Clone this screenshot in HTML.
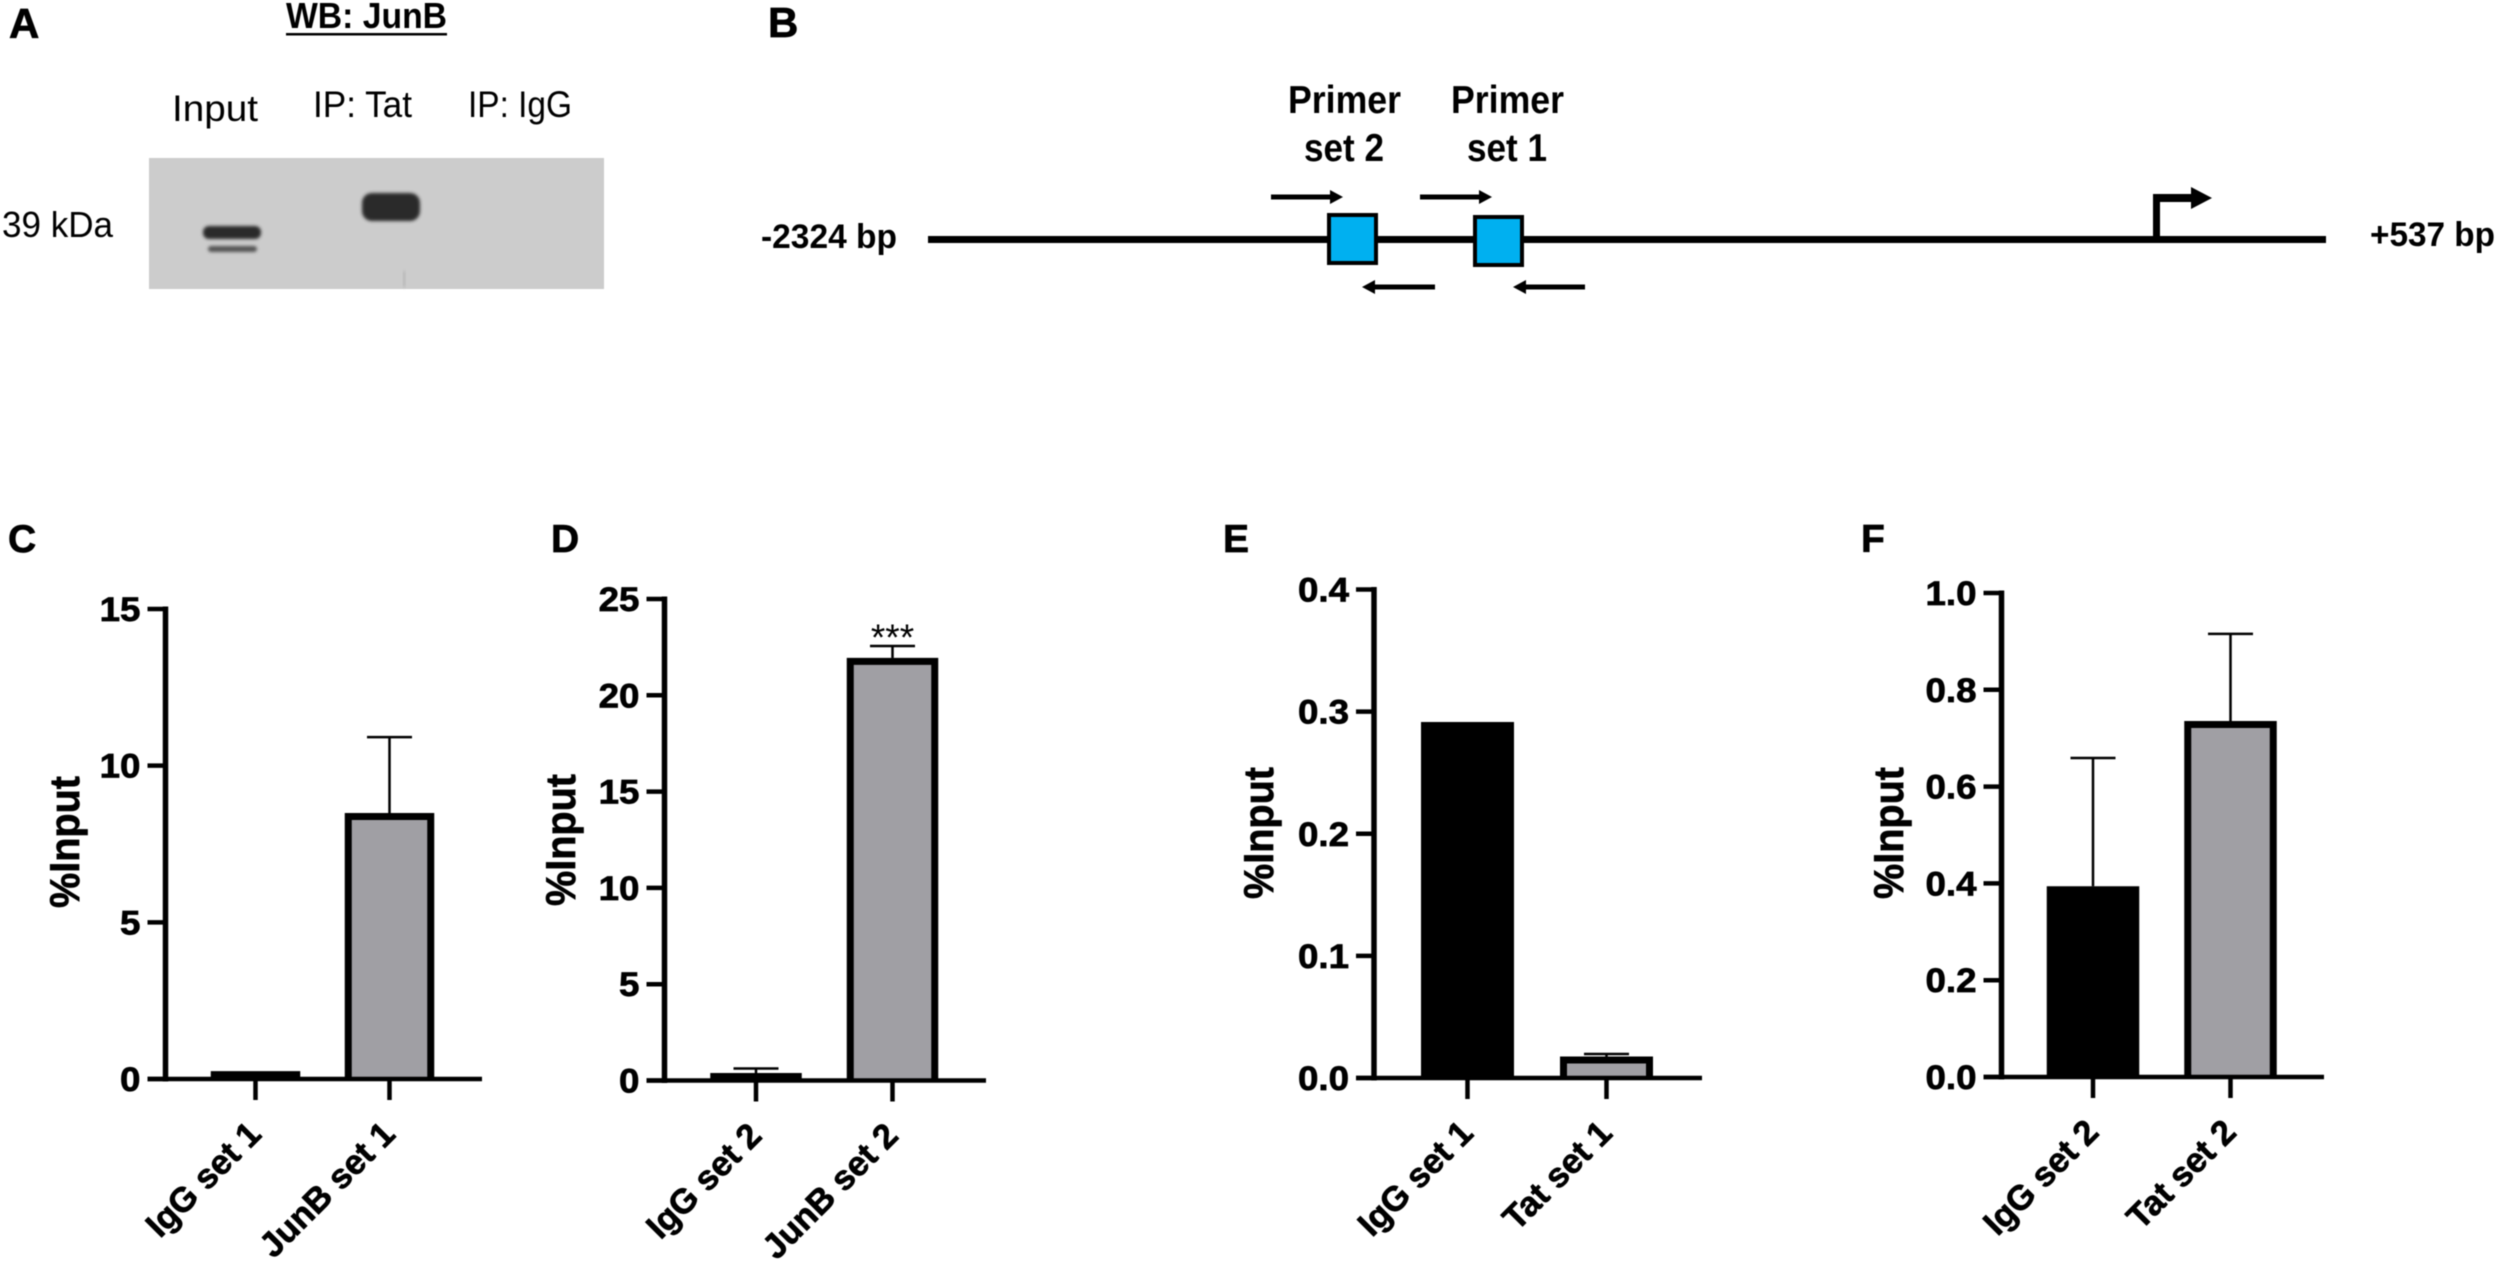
<!DOCTYPE html>
<html lang="en">
<head>
<meta charset="utf-8">
<title>JunB and Tat ChIP figure</title>
<style>
html,body{margin:0;padding:0;background:#fff;width:2500px;height:1265px;overflow:hidden}
svg{display:block;position:absolute;left:0;top:0;filter:blur(0.6px)}
text{font-family:"Liberation Sans",sans-serif;fill:#000}
.b{font-weight:700}
.h{font-weight:700;stroke:#000;stroke-width:0.7px}
</style>
</head>
<body>
<svg id="figure" xmlns="http://www.w3.org/2000/svg" width="2500" height="1265" viewBox="0 0 2500 1265">
<defs>
<filter id="soft" x="-20%" y="-50%" width="140%" height="200%"><feGaussianBlur stdDeviation="2.2"/></filter>
<filter id="softer" x="-20%" y="-80%" width="140%" height="260%"><feGaussianBlur stdDeviation="1.5"/></filter>
</defs>
<rect width="2500" height="1265" fill="#fff"/>

<g>
<text class="h" x="9" y="38" font-size="42">A</text>
<text class="b" x="286" y="28" font-size="36" textLength="161" lengthAdjust="spacingAndGlyphs">WB: JunB</text>
<rect x="286" y="33" width="161" height="2.5" fill="#000"/>
<text x="172" y="121" font-size="37" textLength="86" lengthAdjust="spacingAndGlyphs">Input</text>
<text x="313" y="117" font-size="37" textLength="99" lengthAdjust="spacingAndGlyphs">IP: Tat</text>
<text x="468" y="117" font-size="37" textLength="104" lengthAdjust="spacingAndGlyphs">IP: IgG</text>
<text x="2" y="237" font-size="36" textLength="111" lengthAdjust="spacingAndGlyphs">39 kDa</text>
<rect x="149" y="158" width="455" height="131" fill="#cccccc"/>
<rect x="203" y="226" width="58" height="13" rx="6" fill="#2a2a2a" filter="url(#softer)"/>
<rect x="208" y="246" width="49" height="6" rx="3" fill="#555" filter="url(#softer)"/>
<rect x="362" y="193" width="58" height="28" rx="10" fill="#2c2c2c" filter="url(#softer)"/>
<rect x="403" y="271" width="2.500" height="16" fill="#b4b4b4" filter="url(#softer)"/>
</g>

<g>
<text class="h" x="768" y="37" font-size="42">B</text>
<text class="b" x="1288" y="113" font-size="39" textLength="113" lengthAdjust="spacingAndGlyphs">Primer</text>
<text class="b" x="1304" y="161" font-size="39" textLength="80" lengthAdjust="spacingAndGlyphs">set 2</text>
<text class="b" x="1451" y="113" font-size="39" textLength="113" lengthAdjust="spacingAndGlyphs">Primer</text>
<text class="b" x="1467" y="161" font-size="39" textLength="80" lengthAdjust="spacingAndGlyphs">set 1</text>
<text class="b" x="761" y="248" font-size="34" textLength="136" lengthAdjust="spacingAndGlyphs">-2324 bp</text>
<text class="b" x="2370" y="246" font-size="34" textLength="125" lengthAdjust="spacingAndGlyphs">+537 bp</text>
<rect x="928" y="236" width="1398" height="7" fill="#000"/>
<rect x="1329" y="215" width="47" height="48" fill="#00b0f0" stroke="#000" stroke-width="4"/>
<rect x="1475" y="217" width="47" height="48" fill="#00b0f0" stroke="#000" stroke-width="4"/>
<path d="M1271 194.500H1330V190L1343 197L1330 204V199.500H1271Z" fill="#000"/>
<path d="M1420 194.500H1479V190L1492 197L1479 204V199.500H1420Z" fill="#000"/>
<path d="M1435 284.500H1375V280L1362 287L1375 294V289.500H1435Z" fill="#000"/>
<path d="M1585 284.500H1526V280L1513 287L1526 294V289.500H1585Z" fill="#000"/>
<path d="M2153 239V194H2191V187L2212 198L2191 209V202H2160V239Z" fill="#000"/>
</g>

<g id="chart-c"></g>
<g id="chart-d"></g>
<g id="chart-e"></g>
<g id="chart-f"></g>
</svg>

<script>
// Panel C data
const cCategories = ['IgG set 1', 'JunB set 1'];
const cValues = [0.25, 8.49];
const cErrors = [0, 2.42];
const cTicks = [0, 5, 10, 15];
const cTickLabels = ['0', '5', '10', '15'];
// Panel D data
const dCategories = ['IgG set 2', 'JunB set 2'];
const dValues = [0.39, 21.94];
const dErrors = [0.23, 0.62];
const dTicks = [0, 5, 10, 15, 20, 25];
const dTickLabels = ['0', '5', '10', '15', '20', '25'];
const dAnnotations = ['', '***'];
// Panel E data
const eCategories = ['IgG set 1', 'Tat set 1'];
const eValues = [0.2915, 0.0176];
const eErrors = [0, 0.0021];
const eTicks = [0, 0.1, 0.2, 0.3, 0.4];
const eTickLabels = ['0.0', '0.1', '0.2', '0.3', '0.4'];
// Panel F data
const fCategories = ['IgG set 2', 'Tat set 2'];
const fValues = [0.394, 0.7355];
const fErrors = [0.265, 0.18];
const fTicks = [0, 0.2, 0.4, 0.6, 0.8, 1.0];
const fTickLabels = ['0.0', '0.2', '0.4', '0.6', '0.8', '1.0'];

const NS = 'http://www.w3.org/2000/svg';
function make(parent, tag, props, text) {
  const node = document.createElementNS(NS, tag);
  for (const k in props) node.setAttribute(k, props[k]);
  if (text !== undefined) node.textContent = text;
  parent.appendChild(node);
  return node;
}

function drawChart(cfg) {
  const root = document.getElementById(cfg.id);
  const maxTick = cfg.ticks[cfg.ticks.length - 1];
  const yAxis = v => cfg.baseY - (v / maxTick) * (cfg.baseY - cfg.topY);
  const xAxis = i => cfg.firstX + i * cfg.stepX;
  const letter = cfg.letter.toLowerCase();

  const panelLabel = make(root, 'text', {class: 'h', x: cfg.labelX, y: 552, 'font-size': 39}, cfg.letter);
  
  

  const yTitle = make(root, 'text', {
    class: 'h', 'font-size': 42, 'text-anchor': 'middle',
    textLength: 132, lengthAdjust: 'spacingAndGlyphs',
    transform: 'translate(' + cfg.titleX + ' ' + cfg.titleY + ') rotate(-90)'
  }, '%Input');
  
  

  cfg.ticks.forEach((t, i) => {
    const y = yAxis(t);
    const tick = make(root, 'line', {x1: cfg.axisX - 18, x2: cfg.axisX, y1: y, y2: y, stroke: '#000', 'stroke-width': 4.5});
    
    
    const label = make(root, 'text', {class: 'h', x: cfg.axisX - 25, y: y + 12, 'font-size': 34, 'text-anchor': 'end'}, cfg.tickLabels[i]);
    
    
    label.setAttribute('textLength', label.getComputedTextLength() * 1.08);
    label.setAttribute('lengthAdjust', 'spacingAndGlyphs');
  });

  cfg.categories.forEach((c, i) => {
    const cx = xAxis(i);
    const top = yAxis(cfg.values[i]);
    const half = cfg.barWidth / 2;
    if (cfg.errors[i] > 0) {
      const errY = yAxis(cfg.values[i] + cfg.errors[i]);
      const stem = make(root, 'line', {x1: cx, x2: cx, y1: top, y2: errY, stroke: '#000', 'stroke-width': 2.5});
      
      
      const cap = make(root, 'line', {x1: cx - 22.5, x2: cx + 22.5, y1: errY, y2: errY, stroke: '#000', 'stroke-width': 2.5});
      
      
    }
    const sw = 7;
    const left = cx - half + sw / 2;
    const right = cx + half - sw / 2;
    const bar = make(root, 'path', {
      d: 'M' + left + ' ' + cfg.baseY + 'V' + (top + sw / 2) + 'H' + right + 'V' + cfg.baseY,
      fill: i === 0 ? '#000' : '#a09fa4', stroke: '#000', 'stroke-width': sw
    });
    
    

    const xTick = make(root, 'line', {x1: cx, x2: cx, y1: cfg.baseY, y2: cfg.baseY + 21, stroke: '#000', 'stroke-width': 4.5});
    
    

    const xLabel = make(root, 'text', {
      class: 'h', 'font-size': 34.5, 'text-anchor': 'end',
      transform: 'translate(' + (cx + 7.5) + ' ' + (cfg.baseY + 57) + ') rotate(-45)'
    }, c);
    
    

    if (cfg.annotations && cfg.annotations[i]) {
      const errY = yAxis(cfg.values[i] + cfg.errors[i]);
      const note = make(root, 'text', {x: cx, y: errY + 4, 'font-size': 37, 'text-anchor': 'middle'}, cfg.annotations[i]);
      
      
    }
  });

  const yLine = make(root, 'line', {x1: cfg.axisX, x2: cfg.axisX, y1: cfg.topY - 2.5, y2: cfg.baseY + 2.5, stroke: '#000', 'stroke-width': 5.5});
  
  
  const xLine = make(root, 'line', {x1: cfg.axisX - 18, x2: cfg.axisEndX, y1: cfg.baseY, y2: cfg.baseY, stroke: '#000', 'stroke-width': 4.5});
  
  
}

drawChart({id: 'chart-c', letter: 'C', categories: cCategories, values: cValues, errors: cErrors, ticks: cTicks, tickLabels: cTickLabels,
  axisX: 165.5, axisEndX: 482, topY: 609, baseY: 1079, firstX: 255.5, stepX: 134, barWidth: 89.5, labelX: 8, titleX: 79, titleY: 842});
drawChart({id: 'chart-d', letter: 'D', categories: dCategories, values: dValues, errors: dErrors, ticks: dTicks, tickLabels: dTickLabels, annotations: dAnnotations,
  axisX: 664.5, axisEndX: 986, topY: 599, baseY: 1080.5, firstX: 756, stepX: 136.5, barWidth: 91.5, labelX: 551, titleX: 575, titleY: 840});
drawChart({id: 'chart-e', letter: 'E', categories: eCategories, values: eValues, errors: eErrors, ticks: eTicks, tickLabels: eTickLabels,
  axisX: 1374, axisEndX: 1702, topY: 589.5, baseY: 1078, firstX: 1467.5, stepX: 139, barWidth: 93, labelX: 1223, titleX: 1273, titleY: 833});
drawChart({id: 'chart-f', letter: 'F', categories: fCategories, values: fValues, errors: fErrors, ticks: fTicks, tickLabels: fTickLabels,
  axisX: 2001.5, axisEndX: 2324, topY: 593, baseY: 1077, firstX: 2093, stepX: 137.5, barWidth: 92.5, labelX: 1861, titleX: 1903, titleY: 833});
</script>
</body>
</html>
